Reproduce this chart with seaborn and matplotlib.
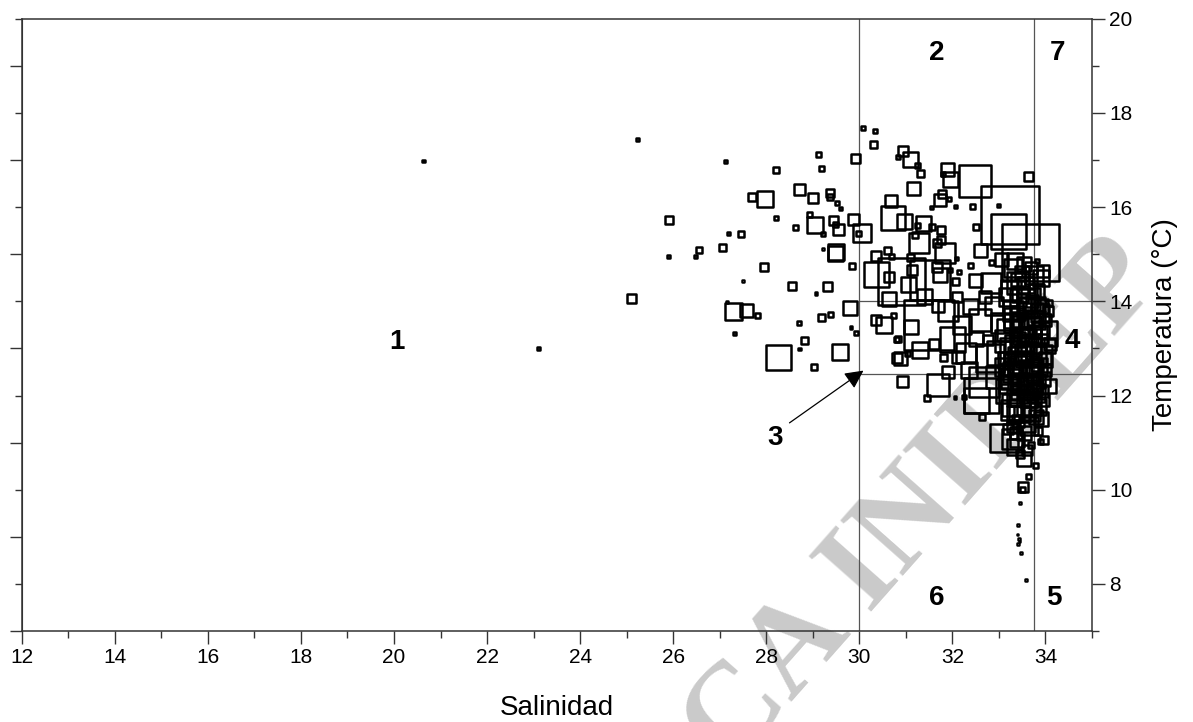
import numpy as np
import pandas as pd
import seaborn as sns
import matplotlib.pyplot as plt
from matplotlib.ticker import MultipleLocator, FixedLocator, NullFormatter

# estaciones dispersas y zona intermedia: salinidad, temperatura, lado del cuadrado
sal = [20.63, 25.23, 23.11, 25.10, 26.48, 27.95, 27.50, 28.56, 29.32, 29.07,
       29.49, 29.85, 27.29, 27.57, 27.82, 27.16, 27.32, 28.71, 29.18, 29.38,
       29.79, 29.82, 29.93, 28.82, 28.72, 28.27, 29.58, 29.02, 27.13, 28.22,
       29.12, 29.19, 29.92, 30.09, 30.33, 30.31, 27.69, 27.97, 28.72, 29.01,
       29.36, 29.36, 29.52, 29.59, 28.22, 28.94, 29.05, 29.22, 29.44, 29.56,
       29.49, 29.87, 28.63, 27.46, 27.06, 30.06, 29.99, 29.22, 29.50, 25.90,
       25.90, 26.55, 27.18,
       30.95, 31.11, 30.83, 31.26, 31.31, 31.90, 31.95, 31.79, 32.49, 31.16,
       31.77, 31.73, 31.93, 31.55, 32.06, 32.44, 32.99, 33.24, 33.63, 33.67,
       33.20, 30.69, 30.72, 30.97, 31.38, 31.57, 31.75, 31.25, 32.50, 32.61,
       31.76, 31.66, 31.84, 32.08, 31.29, 31.20, 30.35, 30.38, 30.61, 30.70,
       31.11, 31.14, 31.66, 31.74, 31.95, 32.15, 32.39, 32.50, 32.06, 32.82,
       32.85, 33.06, 33.81, 30.63, 30.90, 31.06, 30.63, 31.40, 34.07, 31.52,
       31.50, 30.35, 30.53, 30.81, 30.81, 30.74, 30.83, 30.88, 31.04, 31.31,
       31.12, 31.69, 31.45, 31.81, 31.91, 32.06, 32.24, 30.92, 32.52, 32.64,
       32.67, 32.77, 32.13, 32.63, 33.97, 31.90, 32.20, 32.40, 32.00, 32.30,
       32.60, 32.80, 31.70, 32.10, 32.50, 32.90, 32.70, 31.60, 32.35]
temp = [16.98, 17.44, 13.00, 14.05, 14.95, 14.74, 14.43, 14.33, 14.31, 14.17,
        15.02, 14.75, 13.79, 13.81, 13.69, 13.99, 13.31, 13.54, 13.65, 13.72,
        13.85, 13.44, 13.32, 13.16, 12.99, 12.80, 12.92, 12.60, 16.97, 16.79,
        17.12, 16.82, 17.04, 17.69, 17.62, 17.33, 16.22, 16.18, 16.38, 16.19,
        16.31, 16.21, 16.08, 15.97, 15.78, 15.85, 15.63, 15.43, 15.71, 15.53,
        15.64, 15.73, 15.56, 15.43, 15.15, 15.46, 15.44, 15.11, 15.04, 15.72,
        14.95, 15.10, 15.45,
        17.19, 17.02, 17.06, 16.89, 16.72, 16.81, 16.58, 16.70, 16.55, 16.40,
        16.29, 16.15, 16.17, 15.99, 16.02, 16.02, 16.04, 15.83, 16.66, 15.03,
        15.48, 16.14, 15.78, 15.69, 15.66, 15.58, 15.51, 15.62, 15.58, 15.09,
        15.30, 15.23, 15.02, 14.90, 15.23, 15.40, 14.96, 14.56, 15.09, 14.95,
        14.93, 14.66, 14.73, 14.56, 14.66, 14.63, 14.76, 14.45, 14.42, 14.40,
        14.83, 14.88, 14.86, 14.52, 14.42, 14.35, 14.06, 14.10, 13.97, 14.45,
        13.50, 13.60, 13.50, 13.18, 12.80, 13.71, 13.19, 12.79, 12.90, 12.97,
        13.46, 12.22, 11.94, 12.81, 12.49, 11.96, 11.96, 12.30, 11.90, 11.55,
        12.29, 13.18, 12.82, 12.01, 13.32, 13.80, 13.50, 13.90, 13.20, 12.90,
        13.60, 12.80, 13.90, 14.10, 13.20, 13.90, 14.10, 13.10, 12.55]
lado = [2.5, 2.5, 2.5, 9, 2.5, 8, 2.5, 8, 9, 2.5,
        15, 6, 17, 13, 5, 2.5, 3, 4, 7, 5,
        14, 2.5, 4, 7, 2.5, 25, 16, 6, 2.5, 6,
        5, 5, 9, 4, 4, 7, 8, 16, 11, 10,
        8, 6, 4, 3, 4, 5, 16, 4, 9, 11,
        5, 11, 5, 6, 7, 18, 5, 2.5, 16, 8,
        2.5, 6, 3,
        10, 15, 4, 5, 7, 13, 15, 4, 32, 13,
        8, 12, 4, 2.5, 3, 5, 2.5, 58, 9, 57,
        35, 12, 24, 15, 15, 6, 8, 5, 6, 13,
        8, 8, 20, 3, 20, 6, 10, 25, 7, 5,
        7, 10, 10, 14, 4, 4, 5, 13, 7, 20,
        5, 13, 4, 10, 47, 15, 14, 15, 6, 40,
        50, 10, 16, 5, 10, 5, 6, 13, 5, 16,
        14, 22, 6, 7, 12, 2.5, 4, 11, 25, 6,
        30, 10, 12, 35, 25, 20, 18, 15, 25, 20,
        22, 28, 12, 10, 14, 18, 12, 10, 16]

# núcleo denso de estaciones de plataforma (33-34 ups)
sal_nucleo = [33.30, 33.50, 33.70, 33.90, 33.40, 33.60, 33.80, 33.20, 33.50, 33.90,
              33.30, 33.70, 33.45, 34.00, 33.20, 33.60, 33.85, 33.40, 33.70, 34.05,
              33.30, 33.55, 33.90, 33.15, 33.45, 33.75, 34.00, 33.30, 33.60, 33.85,
              33.20, 33.50, 33.80, 33.35, 33.65, 33.95, 33.25, 33.50, 33.80, 33.40,
              33.65, 33.20, 33.55, 33.85, 33.35, 33.60, 33.45, 33.70, 33.10, 33.28,
              33.39, 33.53, 33.96, 33.78, 33.52, 33.64, 33.89, 33.36, 33.28, 33.50,
              33.35, 33.55, 33.75, 33.95, 33.25, 33.45, 33.65, 33.85, 34.05, 33.30,
              33.50, 33.70, 33.90, 33.15, 33.40, 33.60, 33.80, 34.00, 33.35, 33.55,
              33.75, 33.95, 33.20, 33.45, 33.65, 33.85, 33.30, 33.50, 33.70, 33.90,
              33.25, 33.45, 33.65, 33.85, 33.40, 33.60, 33.80, 33.50, 33.70, 33.60,
              33.05, 33.00, 32.95, 33.10, 34.10, 34.08,
              33.42, 33.58, 33.72, 33.88, 33.32, 33.48, 33.62, 33.78, 33.95, 33.38,
              33.52, 33.68, 33.82, 33.22, 33.44, 33.58, 33.74, 33.92, 33.34, 33.66]
temp_nucleo = [14.70, 14.60, 14.70, 14.50, 14.40, 14.30, 14.20, 14.10, 14.00, 13.90,
               13.80, 13.70, 13.60, 13.60, 13.40, 13.40, 13.30, 13.20, 13.10, 13.05,
               12.95, 12.90, 12.85, 12.75, 12.70, 12.60, 12.55, 12.50, 12.40, 12.30,
               12.25, 12.15, 12.05, 11.95, 11.85, 11.90, 11.70, 11.60, 11.55, 11.45,
               11.35, 11.30, 11.20, 11.25, 10.90, 10.85, 10.75, 10.95, 11.09, 11.07,
               11.05, 10.65, 11.05, 10.52, 10.05, 10.28, 11.02, 11.20, 11.34, 10.00,
               14.85, 14.80, 14.55, 14.65, 14.25, 14.15, 14.05, 13.95, 13.80, 13.55,
               13.50, 13.45, 13.40, 13.15, 13.00, 12.95, 12.85, 12.80, 12.65, 12.55,
               12.45, 12.35, 12.10, 12.00, 11.95, 11.75, 11.80, 11.75, 11.65, 11.50,
               12.35, 12.25, 12.20, 12.60, 13.75, 13.85, 13.60, 13.15, 12.70, 11.40,
               13.55, 12.90, 12.40, 12.60, 13.10, 12.20,
               14.45, 14.35, 14.00, 13.75, 13.65, 13.30, 13.25, 13.35, 13.20, 12.85,
               12.75, 12.50, 12.65, 12.45, 12.30, 12.05, 12.20, 12.10, 11.60, 11.90]
lado_nucleo = [18, 14, 12, 16, 22, 20, 15, 18, 25, 14,
               20, 24, 16, 12, 22, 28, 18, 14, 20, 14,
               26, 18, 22, 16, 24, 16, 12, 20, 30, 14,
               18, 22, 18, 16, 24, 12, 20, 16, 14, 12,
               18, 10, 14, 8, 16, 10, 8, 6, 28, 20,
               14, 14, 8, 5, 10, 5, 5, 12, 10, 5,
               16, 14, 18, 12, 20, 16, 22, 14, 10, 18,
               24, 20, 16, 22, 26, 18, 20, 12, 22, 28,
               16, 14, 24, 20, 18, 16, 22, 26, 18, 14,
               20, 16, 22, 18, 14, 20, 18, 24, 20, 16,
               20, 24, 22, 18, 12, 14,
               14, 16, 12, 18, 20, 14, 16, 12, 10, 18,
               14, 16, 12, 20, 16, 14, 18, 12, 16, 14]

# trazas por debajo de 10 °C
sal_traza = [33.45, 33.41, 33.40, 33.43, 33.41, 33.44, 33.48, 33.59]
temp_traza = [9.72, 9.25, 9.05, 8.95, 8.85, 8.90, 8.65, 8.08]
lado_traza = [2, 2, 1.5, 1.5, 1.5, 1.5, 2, 2]

zonas = ['1', '2', '7', '4', '5', '6']
zona_x = [20.07, 31.66, 34.25, 34.57, 34.19, 31.66]
zona_y = [13.14, 19.28, 19.28, 13.16, 7.70, 7.70]

df = pd.DataFrame({'Salinidad': sal + sal_nucleo + sal_traza,
                   'Temperatura': temp + temp_nucleo + temp_traza,
                   'lado': lado + lado_nucleo + lado_traza})
df['area'] = (df['lado'] * 0.72) ** 2

sns.set_style('ticks')
plt.rcParams['font.family'] = ['Liberation Sans', 'DejaVu Sans']
plt.rcParams['text.color'] = 'black'

fig = plt.figure(figsize=(11.93, 7.22), dpi=100)
ax = fig.add_axes([0.0182, 0.126, 0.8971, 0.848])

# marca de agua
ax.text(0.958, 0.64, 'CA INIDEP', transform=fig.transFigure,
        rotation=48.5, rotation_mode='anchor', ha='right', va='center',
        fontsize=92, family='Liberation Serif', fontweight='bold',
        color='#cacaca', zorder=0.5, clip_on=False)

sns.scatterplot(data=df, x='Salinidad', y='Temperatura', s=df['area'],
                marker='s', facecolor='none', edgecolor='black',
                linewidth=1.8, legend=False, ax=ax, zorder=3)

lc = '#555555'
ax.axvline(30, color=lc, lw=0.9, zorder=2)
ax.axvline(33.75, color=lc, lw=0.9, zorder=2)
ax.hlines([14.0, 12.45], 30, 35, color=lc, lw=0.9, zorder=2)

ax.annotate('', xy=(30.09, 12.53), xytext=(28.5, 11.42),
            arrowprops=dict(arrowstyle='-|>', color='black', lw=0.9,
                            mutation_scale=28, shrinkA=0, shrinkB=0),
            zorder=4)
ax.text(28.18, 11.1, '3', fontsize=20, fontweight='bold', ha='center',
        va='center', color='black')
for z, zx, zy in zip(zonas, zona_x, zona_y):
    ax.text(zx, zy, z, fontsize=20, fontweight='bold', ha='center',
            va='center', color='black')

ax.set_xlim(12, 35)
ax.set_ylim(7, 20)
ax.xaxis.set_major_locator(MultipleLocator(2))
ax.xaxis.set_minor_locator(MultipleLocator(1))
ax.yaxis.set_major_locator(MultipleLocator(2))
ax.yaxis.set_minor_locator(MultipleLocator(1))
ax.yaxis.tick_right()
ax.yaxis.set_label_position('right')
ax.tick_params(axis='both', which='major', length=9, width=1, color='#333333',
               labelsize=15, labelcolor='black', direction='out')
ax.tick_params(axis='both', which='minor', length=5, width=1, color='#333333',
               direction='out')
ax.tick_params(axis='y', which='both', left=False, right=True)
ax.set_xticklabels([str(int(v)) for v in ax.get_xticks()])

sec = ax.secondary_yaxis('left')
sec.yaxis.set_major_locator(FixedLocator([7, 9, 11, 13, 15, 17, 19]))
sec.yaxis.set_minor_locator(FixedLocator([8, 10, 12, 14, 16, 18, 20]))
sec.yaxis.set_major_formatter(NullFormatter())
sec.tick_params(which='major', length=9, width=1, color='#333333')
sec.tick_params(which='minor', length=5, width=1, color='#333333')
sec.spines['left'].set_color('#333333')

for sp in ax.spines.values():
    sp.set_visible(True)
    sp.set_color('#333333')
    sp.set_linewidth(1.1)

ax.set_xlabel('Salinidad', fontsize=20, labelpad=20, color='black')
ax.set_ylabel('Temperatura (°C)', fontsize=20, labelpad=14, color='black')

fig.savefig('out.png', dpi=100)
